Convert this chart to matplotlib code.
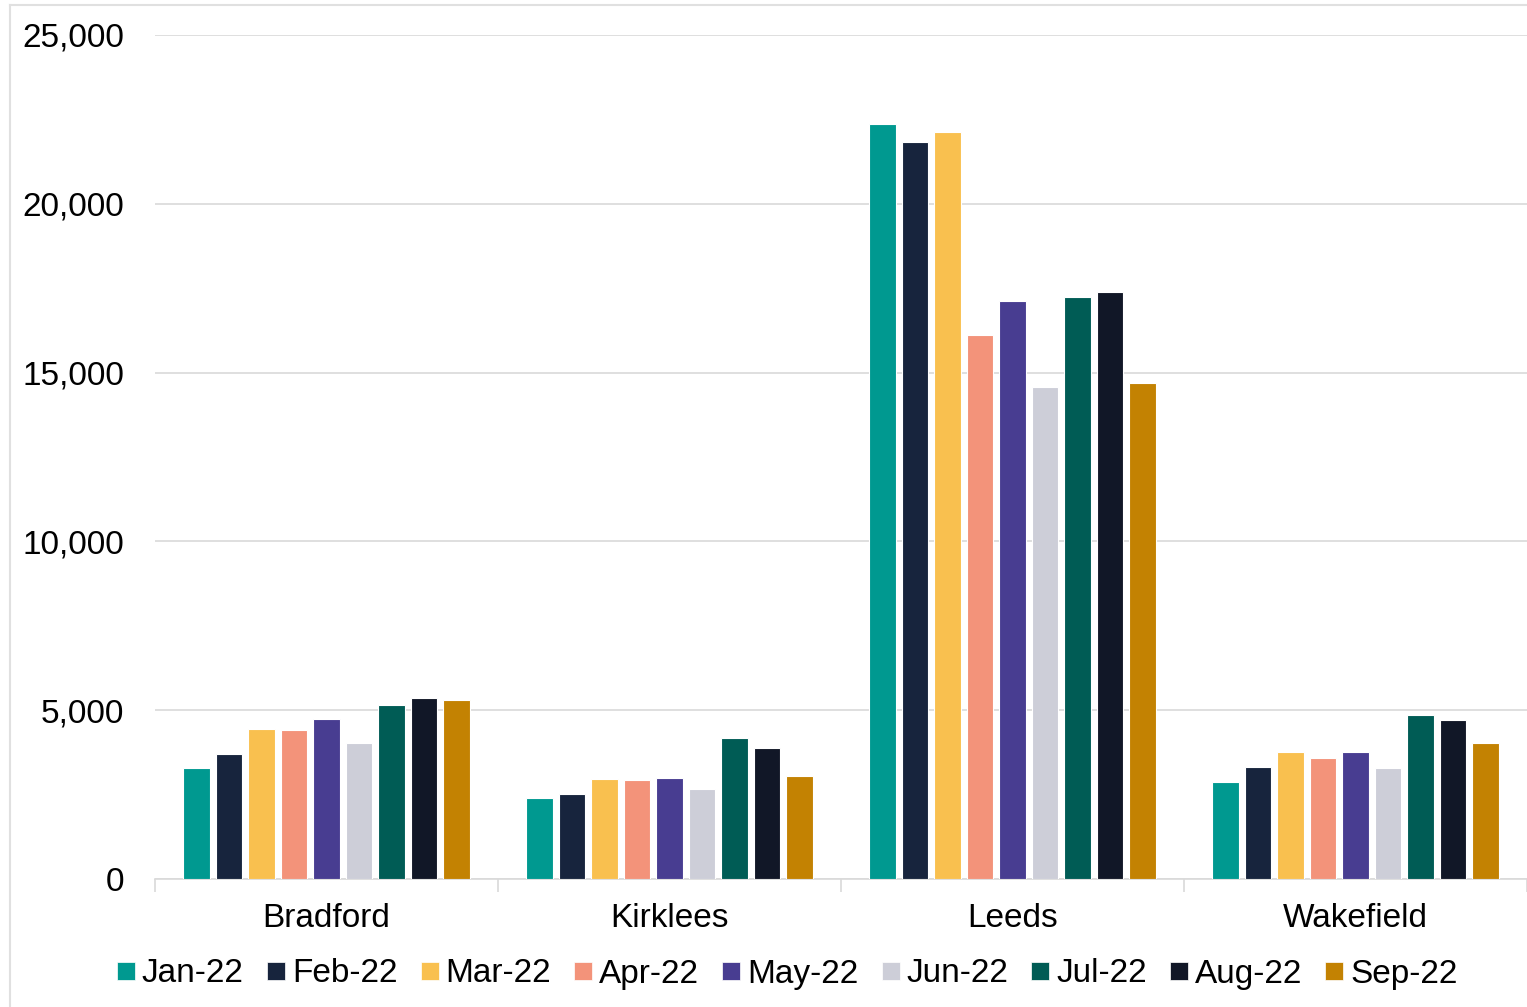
import matplotlib
matplotlib.use("Agg")
import matplotlib.pyplot as plt
import numpy as np
from matplotlib.lines import Line2D
from matplotlib.ticker import FuncFormatter

plt.rcParams['font.family'] = ['Liberation Sans', 'DejaVu Sans']

categories = ["Bradford", "Kirklees", "Leeds", "Wakefield"]
months = ["Jan-22", "Feb-22", "Mar-22", "Apr-22", "May-22", "Jun-22", "Jul-22", "Aug-22", "Sep-22"]
colors = ["#009990", "#17243D", "#F9C04F", "#F3937A", "#483D91", "#CDCED8", "#005C55", "#111727", "#C38202"]

jan = [3280, 2400, 22360, 2870]
feb = [3700, 2520, 21830, 3320]
mar = [4440, 2960, 22130, 3760]
apr = [4410, 2930, 16110, 3580]
may = [4740, 2990, 17120, 3760]
jun = [4030, 2670, 14570, 3290]
jul = [5150, 4180, 17240, 4860]
aug = [5360, 3880, 17390, 4710]
sep = [5300, 3050, 14690, 4030]
series = [jan, feb, mar, apr, may, jun, jul, aug, sep]

yticks = [0, 5000, 10000, 15000, 20000, 25000]

fig = plt.figure(figsize=(15.27, 10.07), dpi=100)
ax = fig.add_axes([155/1527, 1-879/1007, 1-155/1527, (879-35)/1007])

x = np.arange(len(categories))
step = 0.0947
width = 0.077
for i, (vals, c, m) in enumerate(zip(series, colors, months)):
    ax.bar(x + (i - 4) * step, vals, width=width, color=c, edgecolor='white', linewidth=0.8, label=m, zorder=3)

ax.set_xlim(-0.5, len(categories) - 0.5)
ax.set_ylim(0, 25000)
ax.set_yticks(yticks)
ax.yaxis.set_major_formatter(FuncFormatter(lambda v, p: f"{int(v):,}"))
ax.grid(axis='y', color='#D9D9D9', linewidth=1.2, zorder=0)
ax.tick_params(axis='y', length=0, labelsize=24, pad=22, labelcolor='#000000')
for s in ['top', 'right', 'left']:
    ax.spines[s].set_visible(False)
ax.spines['bottom'].set_color('#D9D9D9')
ax.spines['bottom'].set_linewidth(1.2)

ax.set_xticks(x)
ax.set_xticklabels(categories, fontsize=24)
ax.tick_params(axis='x', length=0, pad=17)
ax.set_xticks(np.arange(-0.5, len(categories), 1.0), minor=True)
ax.tick_params(axis='x', which='minor', length=9, color='#D9D9D9', width=1.2)

handles = [Line2D([0], [0], marker='s', linestyle='none', markersize=13,
                  markerfacecolor=c, markeredgecolor='white', markeredgewidth=0.5) for c in colors]
fig.legend(handles, months, loc='center', bbox_to_anchor=(786/1527, 1-974/1007), ncol=9,
           frameon=False, fontsize=24, handlelength=0.7, handletextpad=0.12, columnspacing=0.62)

# outer light border
fig.add_artist(Line2D([10/1527, 10/1527], [0, 1-5/1007], transform=fig.transFigure, color='#E0E0E0', linewidth=1.5))
fig.add_artist(Line2D([10/1527, 1], [1-5/1007, 1-5/1007], transform=fig.transFigure, color='#E0E0E0', linewidth=1.5))

fig.savefig("out.png", dpi=100)
